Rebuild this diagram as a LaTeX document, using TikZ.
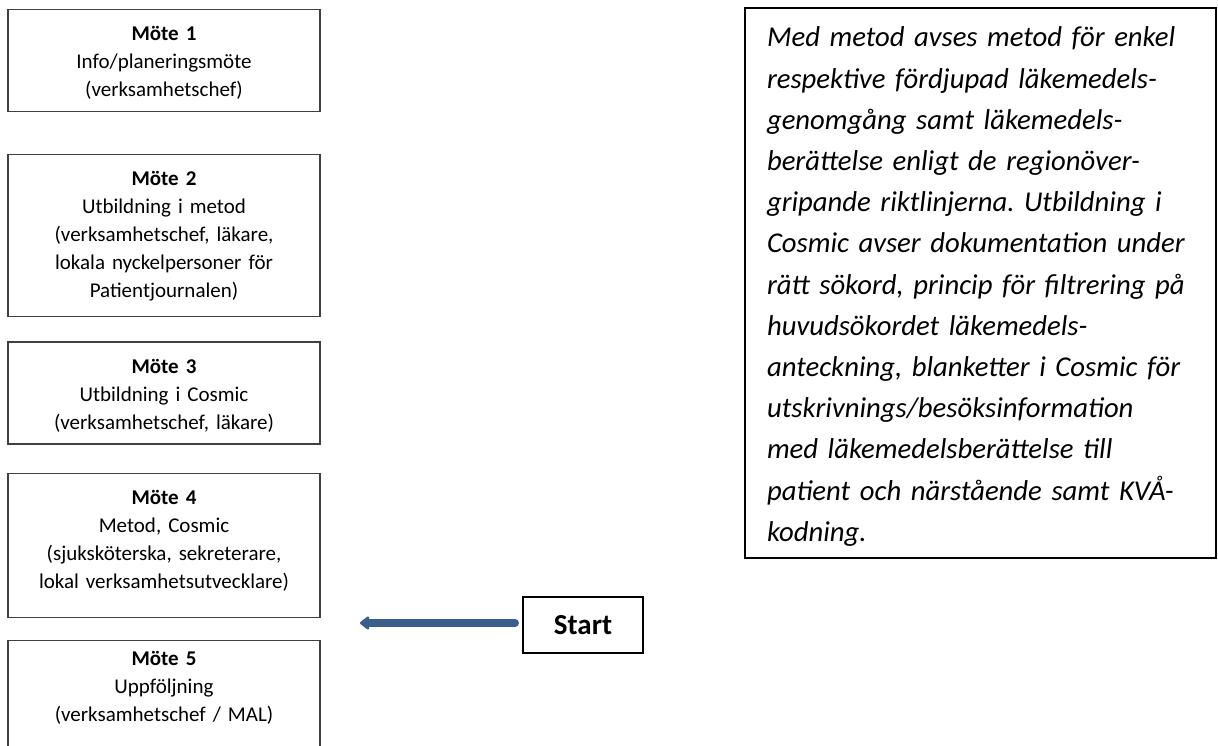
\documentclass[tikz,border=0pt]{standalone}
\usepackage{fontspec}
\setmainfont{Carlito}
\frenchspacing
\usetikzlibrary{arrows.meta,positioning}
\definecolor{pilblue}{RGB}{58,95,139}
\begin{document}
\begin{tikzpicture}[x=1pt,y=-1pt,
	mote/.style={draw=black!75,line width=1.2pt,anchor=north,align=center,text width=304pt,inner xsep=4pt,inner ysep=0pt,text height=31pt,font=\fontsize{21}{28}\selectfont},
	ruta/.style={draw=black,line width=2pt,inner ysep=0pt}]
	\useasboundingbox (0,0) rectangle (1218,746);
	\clip (0,0) rectangle (1218,746); % Möte 5 runs off the page
	\node[mote,text depth=71pt] (m1) at (164,9) {\textbf{Möte 1}\\Info/planeringsmöte\\(verksamhetschef)};
	\node[mote,text depth=131pt,below=42pt of m1] (m2) {\textbf{Möte 2}\\Utbildning i metod\\(verksamhetschef, läkare,\\lokala nyckelpersoner för\\Patientjournalen)};
	\node[mote,text depth=71pt,below=24pt of m2] (m3) {\textbf{Möte 3}\\Utbildning i Cosmic\\(verksamhetschef, läkare)};
	\node[mote,text depth=113pt,below=28pt of m3] (m4) {\textbf{Möte 4}\\Metod, Cosmic\\(sjuksköterska, sekreterare,\\lokal verksamhetsutvecklare)};
	\node[mote,text height=25pt,text depth=200pt,below=22pt of m4] (m5) {\textbf{Möte 5}\\Uppföljning\\(verksamhetschef / MAL)};
	\node[ruta,anchor=north west,align=left,text width=427pt,inner xsep=22pt,text height=39pt,text depth=511pt,font=\itshape\fontsize{28.7}{41.2}\selectfont] (info) at (744,7) {Med metod avses metod för enkel\\respektive fördjupad läkemedels-\\genomgång samt läkemedels-\\berättelse enligt de regionöver-\\gripande riktlinjerna. Utbildning i\\Cosmic avser dokumentation under\\rätt sökord, princip för filtrering på\\huvudsökordet läkemedels-\\anteckning, blanketter i Cosmic för\\utskrivnings/besöksinformation\\med läkemedelsberättelse till\\patient och närstående samt KVÅ-\\kodning.};
	\node[ruta,minimum width=120pt,minimum height=56pt,font=\bfseries\fontsize{29}{35}\selectfont] (start) at (583,625) {Start};
	\coordinate (pilspets) at (360,623);
	\draw[pilblue,line width=8pt,line cap=round,-{Triangle[length=10pt,width=15pt,round]},shorten <=7pt] (start.west |- pilspets) -- (pilspets);
\end{tikzpicture}
\end{document}
